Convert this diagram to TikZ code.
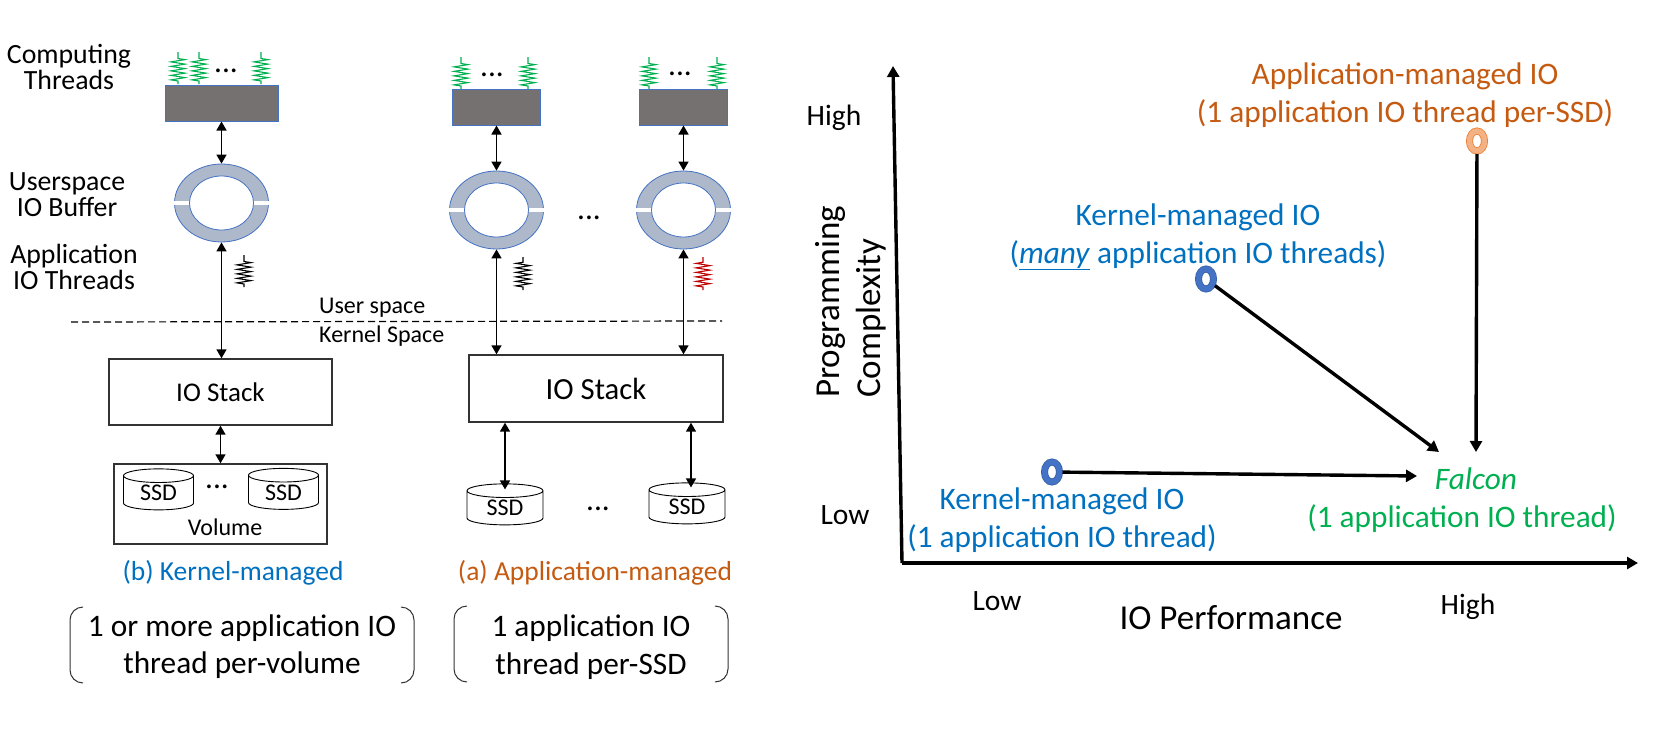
\documentclass[tikz,border=0pt]{standalone}
\usepackage{fontspec}
\setmainfont{Carlito}
\usetikzlibrary{arrows.meta,shapes.geometric,decorations.pathmorphing}

\definecolor{cpugray}{HTML}{767171}
\definecolor{edgeblue}{HTML}{4472C4}
\definecolor{ringblue}{HTML}{ADB9CA}
\definecolor{kernblue}{HTML}{0070C0}
\definecolor{apporange}{HTML}{C55A11}
\definecolor{falcongreen}{HTML}{00B050}
\definecolor{ptorange}{HTML}{F4B183}
\definecolor{ptedge}{HTML}{ED7D31}

\tikzset{
    txtsm/.style={font=\fontsize{24}{29}\selectfont, inner sep=0pt},
    txtmd/.style={font=\fontsize{27.8}{26}\selectfont, inner sep=0pt, align=center},
    txtlg/.style={font=\fontsize{31.3}{37.5}\selectfont, inner sep=0pt, align=center},
    txtxl/.style={font=\fontsize{35}{41}\selectfont, inner sep=0pt},
    cpubox/.style={draw=edgeblue, fill=cpugray, line width=1pt, inner sep=0pt, minimum height=36pt},
    ring/.style={ellipse, draw=edgeblue, fill=ringblue, line width=0.8pt, inner sep=0pt, minimum width=94pt, minimum height=78pt},
    hole/.style={ellipse, draw=edgeblue, fill=white, line width=0.8pt, inner sep=0pt, minimum width=64pt, minimum height=54pt},
    stack/.style={draw=black!80, line width=1.4pt, inner sep=0pt},
    ssd/.style={cylinder, shape border rotate=90, aspect=0.37, draw=black, line width=0.9pt, inner sep=0pt, minimum width=70pt, minimum height=41pt, font=\fontsize{24}{29}\selectfont},
    dbl/.style={{Triangle[width=10pt,length=9pt]}-{Triangle[width=10pt,length=9pt]}, line width=1.5pt},
    axis/.style={-{Triangle[width=12pt,length=11pt]}, line width=3.4pt},
    spring/.style={decorate, decoration={zigzag, amplitude=7pt, segment length=4.5pt, pre length=3pt, post length=5pt}, line width=1.1pt},
    pt/.style={ellipse, fill=white, line width=0.8pt, double distance=5.4pt, inner sep=0pt, outer sep=3pt, minimum width=15pt, minimum height=20pt},
}

\begin{document}
\begin{tikzpicture}[x=1pt, y=-1pt]
    \useasboundingbox (0,0) rectangle (1666,736);

    % left panel
    \node[cpubox, minimum width=113pt] (cpu1) at (221.5,103) {};
    \node[cpubox, minimum width=88pt]  (cpu2) at (496.5,107) {};
    \node[cpubox, minimum width=88pt]  (cpu3) at (683.5,107) {};

    \foreach \n/\x/\y in {1/221.5/203, 2/496.5/210, 3/683.5/210} {
        \node[ring] (ring\n) at (\x,\y) {};
        \node[hole] (hole\n) at (\x,\y) {};
        \fill[white] ([yshift=2pt]ring\n.west) rectangle ([yshift=-2pt]hole\n.west);
        \fill[white] ([yshift=2pt]ring\n.east) rectangle ([yshift=-2pt]hole\n.east);
        \draw[dbl] (cpu\n) -- (ring\n);
    }

    \foreach \x in {178,199,261}
        \draw[spring, falcongreen] (\x,84) -- (\x,52);
    \foreach \x in {461,528,649,717}
        \draw[spring, falcongreen] (\x,89) -- (\x,57);
    \draw[spring, black] (244,287) -- (244,255);
    \draw[spring, black] (523,290) -- (523,257);
    \draw[spring, red!75!black] (703,290) -- (703,257);

    \node[txtlg, anchor=base] (dots1) at (226,72) {...};
    \node[txtlg, anchor=base] (dots2) at (492,76) {...};
    \node[txtlg, anchor=base] (dots3) at (680,75) {...};
    \node[txtlg, anchor=base] (dots4) at (589,219) {...};
    \node[txtlg, anchor=base] (dots5) at (217,488) {...};
    \node[txtlg, anchor=base] (dots6) at (598,510) {...};

    \node[txtmd] (lblcomp) at (69,67)  {Computing\\Threads};
    \node[txtmd] (lblbuf)  at (67,195) {Userspace\\IO Buffer};
    \node[txtmd] (lblio)   at (74,267) {Application\\IO Threads};

    \draw[dashed, dash pattern=on 7pt off 4pt, line width=1.2pt] (71,322) -- (722,321);
    \node[txtsm, anchor=west] (user) at (319,308) {User space};
    \node[txtsm, anchor=west] (kern) at (319,336) {Kernel Space};

    \node[stack, minimum width=223pt, minimum height=66pt, font=\fontsize{27}{32}\selectfont] (stack1) at (220.5,392) {IO Stack};
    \node[stack, minimum width=254pt, minimum height=67pt, font=\fontsize{30.7}{36}\selectfont] (stack2) at (596,388.5) {IO Stack};

    \draw[dbl] (ring1) -- (ring1 |- stack1.north);
    \draw[dbl] (ring2) -- (ring2 |- stack2.north);
    \draw[dbl] (ring3) -- (ring3 |- stack2.north);

    \node[stack, minimum width=213pt, minimum height=80pt] (vol) at (220.5,504) {};
    \node[ssd] (ssd1) at (158.5,493) {SSD};
    \node[ssd] (ssd2) at (283.5,492.5) {SSD};
    \node[txtsm] (lblvol) at (225,527) {Volume};
    \draw[dbl] (stack1) -- (vol);

    \node[ssd, minimum width=76pt] (ssd3) at (505,508) {SSD};
    \node[ssd, minimum width=76pt] (ssd4) at (687,507) {SSD};
    \draw[dbl] (ssd3.north |- stack2.south) -- ([yshift=-6pt]ssd3.north);
    \draw[dbl] ([xshift=4pt]ssd4.north |- stack2.south) -- ([xshift=4pt,yshift=-5pt]ssd4.north);

    \node[font=\fontsize{27.5}{33}\selectfont, text=kernblue, inner sep=0pt]  (capb) at (233,573) {(b) Kernel-managed};
    \node[font=\fontsize{27.5}{33}\selectfont, text=apporange, inner sep=0pt] (capa) at (595,573) {(a) Application-managed};

    \node[txtlg] (notea) at (242,646.5) {1 or more application IO\\thread per-volume};
    \node[txtlg] (noteb) at (591,647) {1 application IO\\thread per-SSD};
    \draw[rounded corners=13pt, line width=1pt, black!80] (83,607) -- (70,607) -- (70,683) -- (83,683);
    \draw[rounded corners=13pt, line width=1pt, black!80] (401,607) -- (414,607) -- (414,683) -- (401,683);
    \draw[rounded corners=13pt, line width=1pt, black!80] (467,606) -- (454,606) -- (454,682) -- (467,682);
    \draw[rounded corners=13pt, line width=1pt, black!80] (715,606) -- (728,606) -- (728,682) -- (715,682);

    % right panel
    \coordinate (orig) at (902,563);
    \coordinate (ytip) at (893,66);
    \coordinate (xtip) at (1638,563);
    \draw[axis] (orig) -- (ytip);
    \draw[axis] (orig) -- (xtip);

    \node[font=\fontsize{29.5}{35}\selectfont, inner sep=0pt] (yhigh) at (834,118) {High};
    \node[font=\fontsize{29.5}{35}\selectfont, inner sep=0pt] (ylow)  at (845,515) {Low};
    \node[font=\fontsize{29.5}{35}\selectfont, inner sep=0pt] (xlow)  at (997,601) {Low};
    \node[font=\fontsize{29.5}{35}\selectfont, inner sep=0pt] (xhigh) at (1468,607) {High};
    \node[txtxl] (xlbl) at (1231,618) {IO Performance};
    \node[txtxl, rotate=90, align=left] (ylbl) at (851,302) {Programming\\Complexity};

    \node[pt, draw=ptedge, double=ptorange] (ptapp) at (1477,141) {};
    \node[pt, draw=edgeblue!85!black, double=edgeblue] (ptmany) at (1206,279) {};
    \node[pt, draw=edgeblue!85!black, double=edgeblue] (ptone)  at (1052,472) {};

    \coordinate (fal1) at (1417,476);
    \coordinate (fal2) at (1439,452);
    \coordinate (fal3) at (1476,452);
    \draw[axis] (ptone) -- (fal1);
    \draw[axis] (ptmany) -- (fal2);
    \draw[axis] (ptapp) -- (fal3);

    \node[txtlg, text=apporange] (lblapp)  at (1405,95)  {Application-managed IO\\(1 application IO thread per-SSD)};
    \node[txtlg, text=kernblue]  (lblmany) at (1198,237) {Kernel-managed IO\\(\underline{\textit{many}} application IO threads)};
    \node[txtlg, text=kernblue]  (lblone)  at (1062,520) {Kernel-managed IO\\(1 application IO thread)};
    \node[txtlg, text=falcongreen] (lblfal) at (1462,500) {\hspace*{28pt}\textit{Falcon}\\(1 application IO thread)};
\end{tikzpicture}
\end{document}
